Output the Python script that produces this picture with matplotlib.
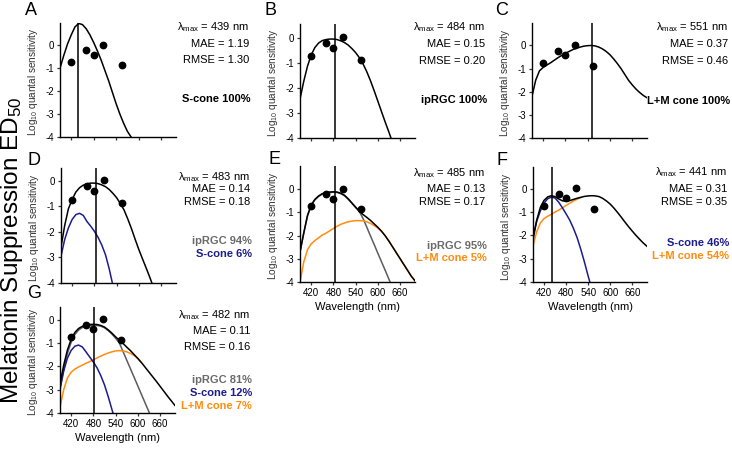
import matplotlib.pyplot as plt

plt.rcParams["font.family"] = ["Liberation Sans", "DejaVu Sans"]
plt.rcParams["mathtext.fontset"] = "custom"
plt.rcParams["mathtext.rm"] = "Liberation Sans"
plt.rcParams["mathtext.it"] = "Liberation Sans:italic"
plt.rcParams["axes.unicode_minus"] = False

W, H = 732, 457

# ED50 points, same in every panel
POINT_WL = [420, 460, 480, 506, 555]
POINT_LOGS = [-0.74, -0.22, -0.41, 0.01, -0.88]

# wavelength grid the curves were read on (390..700 nm, 10 nm steps)
WL = list(range(390, 701, 10))

# A: S-cone only
A_TOTAL = [-1.0, -0.45, 0.05, 0.45, 0.8, 0.95, 0.9, 0.72, 0.45, 0.12, -0.25, -0.65,
           -1.1, -1.55, -2.05, -2.55, -3.0, -3.4, -3.75, -4.0, -4.3]

# B: ipRGC only
B_TOTAL = [-2.45, -1.75, -1.15, -0.7, -0.4, -0.22, -0.12, -0.08, -0.06, -0.06, -0.08,
           -0.13, -0.2, -0.3, -0.44, -0.6, -0.8, -1.05, -1.36, -1.72, -2.12, -2.54,
           -2.96, -3.38, -3.78, -4.2]

# C: L+M cone only
C_TOTAL = [-2.2, -1.5, -1.1, -0.95, -0.85, -0.75, -0.64, -0.53, -0.43, -0.34, -0.26,
           -0.18, -0.12, -0.07, -0.03, -0.01, 0.0, -0.02, -0.07, -0.15, -0.26, -0.4,
           -0.58, -0.78, -1.0, -1.25, -1.5, -1.7, -1.88, -2.03, -2.16, -2.26]

# D: ipRGC 94% + S-cone 6%
D_TOTAL = [-2.6, -1.75, -1.1, -0.74, -0.45, -0.28, -0.18, -0.13, -0.1, -0.1, -0.12,
           -0.17, -0.24, -0.35, -0.5, -0.67, -0.9, -1.15, -1.5, -1.88, -2.3, -2.7,
           -3.07, -3.43, -3.8, -4.2]
D_SCONE = [-2.95, -2.3, -1.85, -1.52, -1.33, -1.28, -1.36, -1.6, -1.78, -1.98, -2.22,
           -2.52, -2.9, -3.45, -4.1]

# E: ipRGC 95% + L+M cone 5%
E_TOTAL = [-2.7, -1.9, -1.15, -0.69, -0.45, -0.3, -0.2, -0.15, -0.13, -0.12, -0.13,
           -0.18, -0.27, -0.42, -0.6, -0.78, -0.95, -1.1, -1.22, -1.35, -1.5, -1.65,
           -1.82, -2.02, -2.25, -2.5, -2.75, -3.0, -3.25, -3.5, -3.75, -3.95]
E_IPRGC = [-2.72, -1.92, -1.17, -0.71, -0.47, -0.32, -0.22, -0.17, -0.15, -0.14, -0.15,
           -0.2, -0.29, -0.44, -0.62, -0.8, -0.97, -1.27, -1.64, -2.02, -2.39, -2.77,
           -3.14, -3.51, -3.89, -4.26]
E_LMCONE = [-4.0, -3.15, -2.62, -2.36, -2.22, -2.1, -1.98, -1.9, -1.8, -1.7, -1.6,
            -1.52, -1.46, -1.41, -1.38, -1.36, -1.36, -1.37, -1.41, -1.48, -1.57, -1.68,
            -1.82, -2.02, -2.25, -2.5, -2.75, -3.0, -3.25, -3.5, -3.75, -3.95]

# F: S-cone 46% + L+M cone 54%
F_TOTAL = [-2.2, -1.35, -0.8, -0.5, -0.35, -0.3, -0.34, -0.44, -0.52, -0.54, -0.51,
           -0.46, -0.41, -0.37, -0.33, -0.31, -0.3, -0.31, -0.34, -0.42, -0.53, -0.66,
           -0.83, -1.02, -1.22, -1.43, -1.63, -1.82, -2.0, -2.17, -2.33, -2.47]
F_SCONE = [-2.05, -1.4, -0.95, -0.62, -0.43, -0.36, -0.4, -0.58, -0.82, -1.08, -1.35,
           -1.7, -2.1, -2.6, -3.15, -3.75, -4.3]
F_LMCONE = [-2.45, -1.85, -1.47, -1.28, -1.18, -1.1, -1.0, -0.92, -0.82, -0.72, -0.62,
            -0.53, -0.45, -0.38]

# G: ipRGC 81% + S-cone 12% + L+M cone 7%
G_TOTAL = [-2.75, -1.95, -1.3, -0.85, -0.55, -0.38, -0.29, -0.24, -0.21, -0.2, -0.21,
           -0.25, -0.32, -0.44, -0.58, -0.74, -0.88, -1.02, -1.18, -1.33, -1.5, -1.67,
           -1.85, -2.05, -2.25, -2.45, -2.65, -2.86, -3.07, -3.28, -3.48, -3.68]
G_IPRGC = [-2.9, -2.15, -1.45, -0.97, -0.64, -0.45, -0.34, -0.28, -0.25, -0.24, -0.25,
           -0.28, -0.35, -0.47, -0.62, -0.8, -1.0, -1.37, -1.74, -2.11, -2.48, -2.85,
           -3.22, -3.59, -3.96, -4.33]
G_SCONE = [-3.0, -2.2, -1.65, -1.32, -1.14, -1.09, -1.17, -1.38, -1.6, -1.82, -2.07,
           -2.4, -2.8, -3.3, -3.85, -4.4]
G_LMCONE = [-3.75, -3.0, -2.5, -2.25, -2.12, -2.03, -1.95, -1.87, -1.8, -1.72, -1.64,
            -1.56, -1.49, -1.43, -1.38, -1.34, -1.33, -1.34, -1.38, -1.45, -1.54, -1.66,
            -1.85]

LAMBDA_MAX = {"A": 439, "B": 484, "C": 551, "D": 483, "E": 485, "F": 441, "G": 482}
MAE = {"A": "1.19", "B": "0.15", "C": "0.37", "D": "0.14", "E": "0.13", "F": "0.31", "G": "0.11"}
RMSE = {"A": "1.30", "B": "0.20", "C": "0.46", "D": "0.18", "E": "0.17", "F": "0.35", "G": "0.16"}

BLACK = "#000000"
GREY = "#5c5c5c"
BLUE = "#1c1c8e"
ORANGE = "#ff8c0f"
GREY_TXT = "#6a6a6a"

# letter, box in pixels (left, right, bottom, top), y top limit, curves, weights text,
# x of right edge of text, y of stats lines, y of weight lines, show x labels
PANELS = [
    ("A", (60, 176, 137, 23), 0.97, [(A_TOTAL, BLACK)],
     [("S-cone 100%", BLACK)], 249, (27, 44, 60), (99,), False),
    ("B", (300, 415, 138, 24), 0.54, [(B_TOTAL, BLACK)],
     [("ipRGC 100%", BLACK)], 485, (27, 44, 61), (100,), False),
    ("C", (532, 647, 138, 23), 0.97, [(C_TOTAL, BLACK)],
     [("L+M cone 100%", BLACK)], 728, (27, 44, 61), (101,), False),
    ("D", (61, 176, 283, 168), 0.49, [(D_SCONE, BLUE), (D_TOTAL, BLACK)],
     [("ipRGC 94%", GREY_TXT), ("S-cone 6%", BLUE)], 250, (177, 189, 202), (241, 254), False),
    ("E", (300, 415, 282, 166), 0.99, [(E_IPRGC, GREY), (E_LMCONE, ORANGE), (E_TOTAL, BLACK)],
     [("ipRGC 95%", GREY_TXT), ("L+M cone 5%", ORANGE)], 485, (173, 189, 202), (246, 258), True),
    ("F", (533, 647, 282, 167), 0.93, [(F_LMCONE, ORANGE), (F_SCONE, BLUE), (F_TOTAL, BLACK)],
     [("S-cone 46%", BLUE), ("L+M cone 54%", ORANGE)], 727, (172, 189, 202), (243, 256), True),
    ("G", (60, 175, 413, 307), 0.54,
     [(G_IPRGC, GREY), (G_LMCONE, ORANGE), (G_SCONE, BLUE), (G_TOTAL, BLACK)],
     [("ipRGC 81%", GREY_TXT), ("S-cone 12%", BLUE), ("L+M cone 7%", ORANGE)],
     250, (315, 331, 347), (380, 393, 406), True),
]

# baseline positions of the panel letters
LETTER_POS = {"A": (31, 15), "B": (271, 15), "C": (502, 15), "D": (34, 165),
              "E": (274, 164), "F": (502, 165), "G": (34, 298)}


def fx(px):
    return px / W


def fy(py):
    return 1 - py / H


fig = plt.figure(figsize=(W / 100, H / 100), dpi=100)

for letter, box, ytop, curves, weights, xr, stat_y, weight_y, xlabels in PANELS:
    left, right, bottom, top = box
    ax = fig.add_axes([fx(left), fy(bottom), (right - left) / W, (bottom - top) / H])

    for vals, color in curves:
        ax.plot(WL[:len(vals)], vals, color=color, lw=1.1)
    ax.axvline(LAMBDA_MAX[letter], color=BLACK, lw=1.1)
    ax.plot(POINT_WL, POINT_LOGS, "o", color=BLACK, ms=4.6, zorder=5)

    ax.set_xlim(390, 700)
    ax.set_ylim(-4, ytop)
    ax.set_xticks([420, 480, 540, 600, 660])
    ax.set_yticks([0, -1, -2, -3, -4])
    ax.set_yticklabels(["0", "-1", "-2", "-3", "-4"])
    if xlabels:
        ax.set_xlabel("Wavelength (nm)", fontsize=8, labelpad=3)
    else:
        ax.set_xticklabels([])
    ax.tick_params(labelsize=7, length=2.5, width=0.9, pad=1.5, color="#333333")
    for side in ["top", "right"]:
        ax.spines[side].set_visible(False)
    for side in ["left", "bottom"]:
        ax.spines[side].set_linewidth(1.0)

    fig.text(fx(left - 27), fy((top + bottom) / 2 + 2), "Log$_{10}$ quantal sensitivity",
             rotation=90, ha="center", va="center", fontsize=7.2, color="#333333")

    lx, ly = LETTER_POS[letter]
    fig.text(fx(lx), fy(ly), letter, ha="center", va="baseline", fontsize=13)

    stats = ["λ$_{\\mathrm{max}}$ = %d nm" % LAMBDA_MAX[letter],
             "MAE = " + MAE[letter], "RMSE = " + RMSE[letter]]
    for txt, y in zip(stats, stat_y):
        fig.text(fx(xr), fy(y), txt, ha="right", va="center", fontsize=8)

    for (txt, col), y in zip(weights, weight_y):
        if letter == "C":
            fig.text(fx(right), fy(y), txt, ha="left", va="center", fontsize=8,
                     fontweight="bold", color=col)
        else:
            fig.text(fx(xr + 2), fy(y), txt, ha="right", va="center", fontsize=8,
                     fontweight="bold", color=col)

fig.text(fx(12), fy(250), "Melatonin Suppression ED$_{50}$", rotation=90,
         ha="center", va="center", fontsize=17.5)

fig.savefig("out.png", dpi=100)
